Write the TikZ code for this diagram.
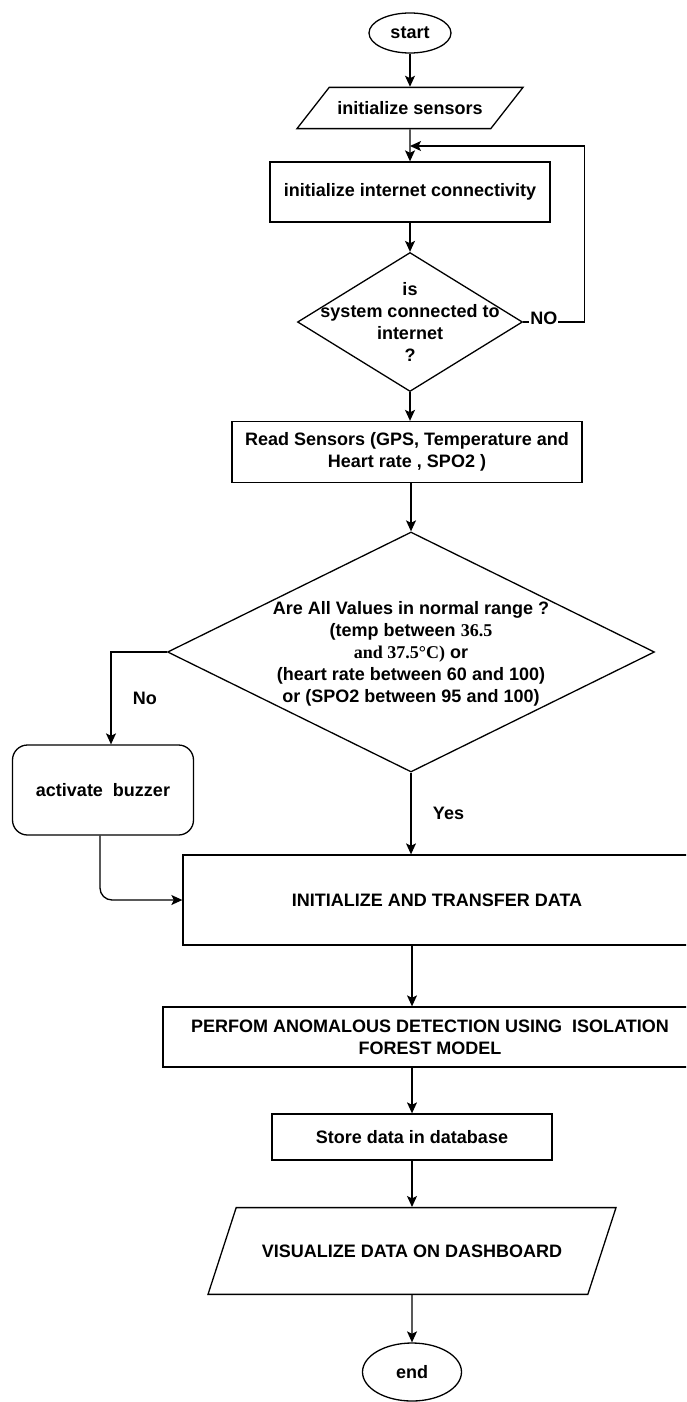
\documentclass[tikz,border=0pt]{standalone}
\usepackage{fontspec}
\setmainfont{Liberation Sans}
\newfontfamily\timesfont{Liberation Serif}
\usetikzlibrary{shapes.geometric,arrows.meta}

\begin{document}
\begin{tikzpicture}[x=1pt,y=-1pt,line width=1.3pt,
font=\fontsize{18}{22}\selectfont\bfseries,
arr/.style={-{Stealth[length=11pt,width=10pt,inset=2.5pt]}},
term/.style={draw,ellipse,inner sep=0pt},
io/.style={draw,trapezium,trapezium stretches body,inner xsep=0pt},
proc/.style={draw,rectangle,inner sep=0pt,align=center},
dec/.style={draw,diamond,inner sep=0pt},
txt/.style={align=center,inner sep=0pt},
lbl/.style={fill=white,inner sep=1pt}]

\useasboundingbox (0,0) rectangle (686,1402);
\clip (0,0) rectangle (686,1402);

\node[term,minimum width=82pt,minimum height=40pt] (start) at (410,33) {start};
\node[io,trapezium left angle=52,trapezium right angle=128,inner ysep=14pt,minimum width=226pt] (sens) at (410,108) {initialize sensors};
\node[proc,minimum width=280pt,minimum height=60pt] (inet) at (410,192) {initialize internet connectivity};
\node[dec,minimum width=225pt,minimum height=139pt] (conn) at (410,322) {};
\node[txt] (conntxt) at (conn.center) {is\\system connected to\\internet\\?};
\node[proc,minimum width=350pt,minimum height=61pt] (read) at (407,452) {Read Sensors (GPS, Temperature and\\Heart rate , SPO2 )};
\node[dec,minimum width=487pt,minimum height=240pt] (chk) at (411,652) {};
\node[txt] (chktxt) at (411,654) {Are All Values in normal range ?\\(temp between {\timesfont 36.5}\\{\timesfont and 37.5°C)} or\\(heart rate between 60 and 100)\\or (SPO2 between 95 and 100)};
\node[proc,rounded corners=15pt,minimum width=181pt,minimum height=90pt] (buzz) at (103,790) {activate~ buzzer};
\node[proc,minimum width=508pt,minimum height=90pt] (xfer) at (437,900) {INITIALIZE AND TRANSFER DATA};
\node[proc,minimum width=534pt,minimum height=60pt] (anom) at (430,1037) {PERFOM ANOMALOUS DETECTION USING~ ISOLATION\\FOREST MODEL};
\node[proc,minimum width=280pt,minimum height=46pt] (store) at (412,1137) {Store data in database};
\node[io,trapezium left angle=72,trapezium right angle=108,inner ysep=37pt,minimum width=408pt] (vis) at (412,1251) {VISUALIZE DATA ON DASHBOARD};
\node[term,minimum width=99pt,minimum height=58pt] (stop) at (412,1372) {end};

\coordinate (back) at (410,146);

\draw[arr] (start) -- (sens);
\draw[arr] (sens) -- (inet);
\draw[arr] (inet) -- (conn);
\draw[arr] (conn.east) -- node[lbl,pos=0.34,yshift=4pt] (nolbl) {NO} ++(61,0) |- (back);
\draw[arr] (conn.south) -- (conn.south |- read.north);
\draw[arr] (read.south -| chk.north) -- (chk.north);
\draw[arr] (chk.west) -| node[pos=0.75,right=18pt] (nobr) {No} ([xshift=8pt]buzz.north);
\draw[arr] (chk.south) -- node[right=18pt] (yes) {Yes} (chk.south |- xfer.north);
\draw[arr,rounded corners=12pt] ([xshift=-3pt]buzz.south) |- (xfer.west);
\draw[arr] (xfer.south -| store.north) -- (anom.north -| store.north);
\draw[arr] (anom.south -| store.north) -- (store.north);
\draw[arr] (store) -- (vis);
\draw[arr] (vis) -- (stop);

\end{tikzpicture}
\end{document}
